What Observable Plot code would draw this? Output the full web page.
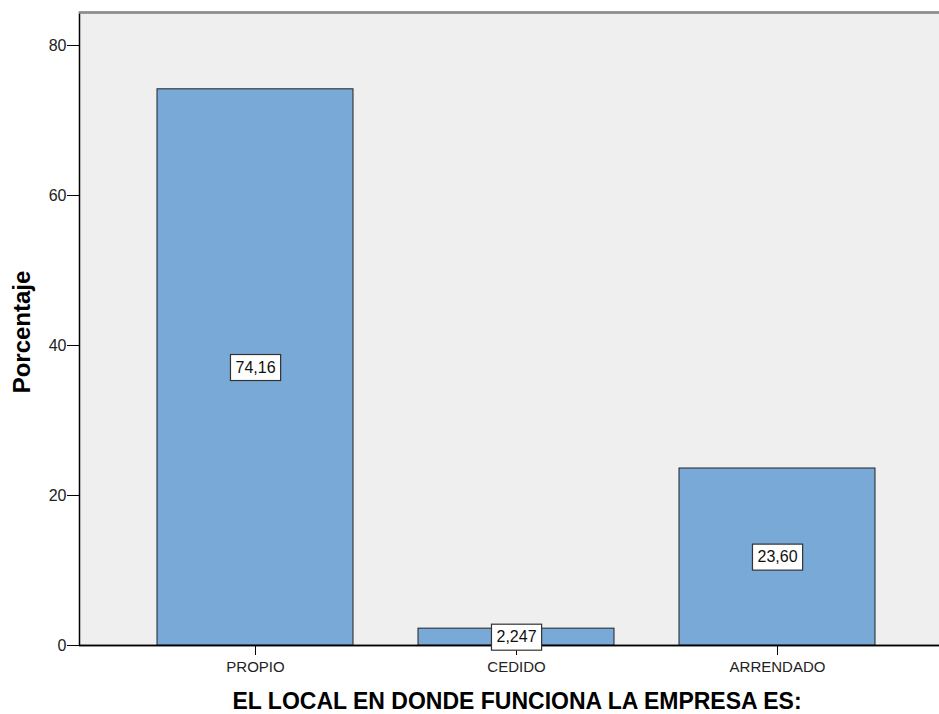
<!DOCTYPE html>
<html>
<head>
<meta charset="utf-8">
<script src="https://cdn.jsdelivr.net/npm/d3@7"></script>
<script src="https://cdn.jsdelivr.net/npm/@observablehq/plot@0.6"></script>
<style>
  html, body { margin: 0; padding: 0; background: #fff; overflow: hidden; }
  #chart svg { display: block; overflow: hidden; }
</style>
</head>
<body>
<div id="chart"></div>
<script>
// Data
const categories = ["PROPIO", "CEDIDO", "ARRENDADO"];
const percentages = [74.16, 2.247, 23.60];
const valueLabels = ["74,16", "2,247", "23,60"];
const yTicks = [0, 20, 40, 60, 80];
const yTitle = "Porcentaje";
const xTitle = "EL LOCAL EN DONDE FUNCIONA LA EMPRESA ES:";

const data = categories.map((c, i) => ({cat: c, pct: percentages[i], label: valueLabels[i]}));

const font = "'Liberation Sans', Arial, Helvetica, sans-serif";

const chart = Plot.plot({
  width: 939,
  height: 714,
  marginLeft: 79,
  marginRight: -20,
  marginTop: 12,
  marginBottom: 69,
  style: {fontFamily: font, color: "#000", background: "#fff"},
  x: {domain: categories, range: [155.5, 876.5], paddingInner: 0.248, paddingOuter: 0, label: null},
  y: {domain: [0, 84.4], label: null},
  marks: [
    Plot.frame({fill: "#efefef", stroke: "#000", strokeWidth: 1.5}),
    Plot.barY(data, {x: "cat", y: "pct", fill: "#79a9d6", stroke: "#222", strokeWidth: 1}),
    Plot.ruleY([0], {stroke: "#000", strokeWidth: 1.5}),
    Plot.ruleY([84.4], {stroke: "#8e8e8e", strokeWidth: 2.5}),
    Plot.axisY(yTicks, {tickSize: 12, tickPadding: 1, fontSize: 16, label: null, stroke: "#000", fill: "#222"}),
    Plot.axisX({tickSize: 10, tickPadding: 6, fontSize: 15, label: null, stroke: "#000", fill: "#222"}),
    Plot.text(data, {x: "cat", y: d => d.pct / 2, text: "label", fontSize: 16, fill: "#111"}),
    Plot.text([yTitle], {text: d => d, frameAnchor: "left", textAnchor: "middle", rotate: -90, dx: -57, dy: 3, fontSize: 24, fontWeight: "bold", fill: "#000"}),
    Plot.text([xTitle], {text: d => d, frameAnchor: "bottom", textAnchor: "middle", dx: -2.5, dy: 63.5, fontSize: 23, fontWeight: "bold", fill: "#000"})
  ]
});

document.getElementById("chart").appendChild(chart);

// Boxes behind the value labels
chart.querySelectorAll("text").forEach(t => {
  if (!valueLabels.includes(t.textContent)) return;
  const b = t.getBBox();
  const r = document.createElementNS("http://www.w3.org/2000/svg", "rect");
  const px = 5, py = 4.5;
  r.setAttribute("x", b.x - px);
  r.setAttribute("y", b.y - py + 0.5);
  r.setAttribute("width", b.width + 2 * px);
  r.setAttribute("height", b.height + 2 * py);
  r.setAttribute("fill", "#fff");
  r.setAttribute("stroke", "#333");
  r.setAttribute("stroke-width", "1.2");
  const tr = t.getAttribute("transform");
  if (tr) r.setAttribute("transform", tr);
  t.parentNode.insertBefore(r, t);
});
</script>
</body>
</html>
